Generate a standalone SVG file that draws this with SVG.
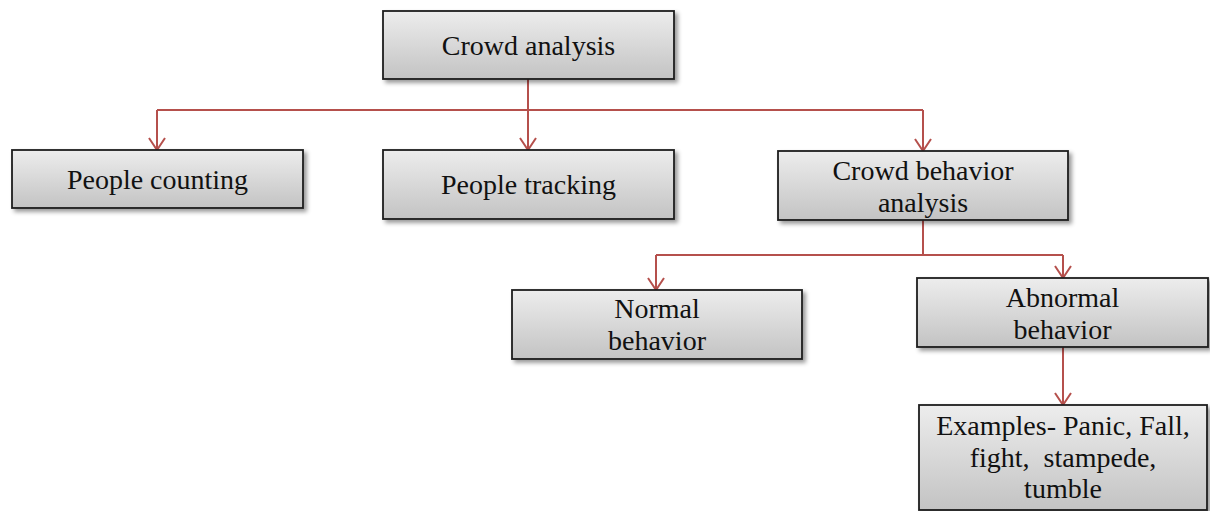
<svg xmlns="http://www.w3.org/2000/svg" width="1210" height="511" viewBox="0 0 1210 511">
  <style>
    .box { fill: url(#boxFill); stroke: #1c1c1c; stroke-width: 1.8; filter: url(#shadow); }
    .label { font-family: "Liberation Serif", "Times New Roman", serif; font-size: 28px; fill: #111; text-anchor: middle; }
    .wire { fill: none; stroke: #b5504c; stroke-width: 2; }
  </style>
  <defs>
    <linearGradient id="boxFill" x1="0" y1="0" x2="0" y2="1">
      <stop offset="0" stop-color="#ededed"/>
      <stop offset="1" stop-color="#c3c3c3"/>
    </linearGradient>
    <filter id="shadow" x="-10%" y="-20%" width="130%" height="150%">
      <feDropShadow dx="3" dy="3" stdDeviation="2" flood-color="#000" flood-opacity="0.4"/>
    </filter>
    <marker id="arrow" viewBox="0 0 14 20" refX="13" refY="10" markerWidth="14" markerHeight="20" markerUnits="userSpaceOnUse" orient="auto">
      <path d="M1,2 L13,10 L1,18" fill="none" stroke="#b5504c" stroke-width="2"/>
    </marker>
  </defs>

  <g id="connectors">
    <path class="wire" d="M528 79 V110"/>
    <path class="wire" d="M157 110 H923"/>
    <path class="wire" d="M157 110 V150" marker-end="url(#arrow)"/>
    <path class="wire" d="M528 110 V150" marker-end="url(#arrow)"/>
    <path class="wire" d="M923 110 V151" marker-end="url(#arrow)"/>
    <path class="wire" d="M923 220 V255"/>
    <path class="wire" d="M656 255 H1063"/>
    <path class="wire" d="M656 255 V290" marker-end="url(#arrow)"/>
    <path class="wire" d="M1063 255 V278" marker-end="url(#arrow)"/>
    <path class="wire" d="M1063 347 V405" marker-end="url(#arrow)"/>
  </g>

  <g id="crowd-analysis">
    <rect class="box" x="383" y="11" width="291" height="68"/>
    <text class="label" x="528.5" y="55">Crowd analysis</text>
  </g>
  <g id="people-counting">
    <rect class="box" x="12" y="150" width="291" height="58"/>
    <text class="label" x="157.5" y="189">People counting</text>
  </g>
  <g id="people-tracking">
    <rect class="box" x="383" y="150" width="291" height="69"/>
    <text class="label" x="528.5" y="194">People tracking</text>
  </g>
  <g id="crowd-behavior-analysis">
    <rect class="box" x="778" y="151" width="290" height="69"/>
    <text class="label" x="923" y="180">Crowd behavior</text>
    <text class="label" x="923" y="211.5">analysis</text>
  </g>
  <g id="normal-behavior">
    <rect class="box" x="512" y="290" width="290" height="69"/>
    <text class="label" x="657" y="318">Normal</text>
    <text class="label" x="657" y="349.5">behavior</text>
  </g>
  <g id="abnormal-behavior">
    <rect class="box" x="917" y="278" width="291" height="69"/>
    <text class="label" x="1062.5" y="307">Abnormal</text>
    <text class="label" x="1062.5" y="338.5">behavior</text>
  </g>
  <g id="examples">
    <rect class="box" x="919" y="405" width="288" height="105"/>
    <text class="label" x="1063" y="435">Examples- Panic, Fall,</text>
    <text class="label" x="1063" y="466.5" xml:space="preserve">fight,  stampede,</text>
    <text class="label" x="1063" y="498">tumble</text>
  </g>
</svg>
